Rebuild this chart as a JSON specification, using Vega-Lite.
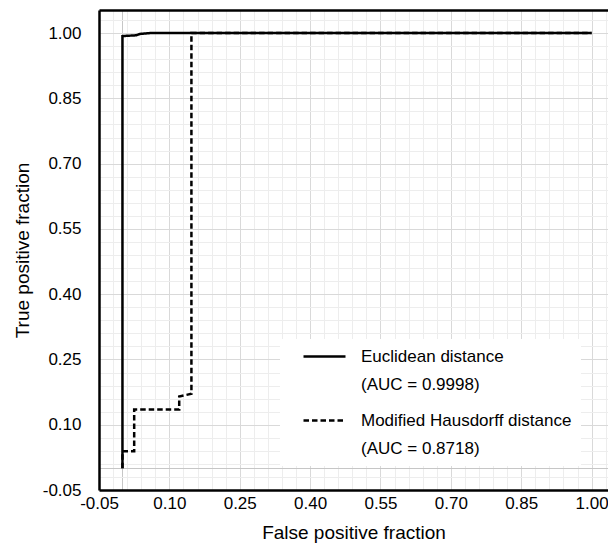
{
  "$schema": "https://vega.github.io/schema/vega-lite/v6.json",
  "width": 509,
  "height": 480,
  "autosize": {"type": "none"},
  "padding": {"left": 99, "top": 10, "right": 0, "bottom": 57},
  "config": {
    "view": {"stroke": null},
    "font": "Liberation Sans",
    "style": {"guide-label": {"lineHeight": 28}}
  },
  "data": {
    "values": [
      {"series": "Euclidean distance", "i": 0, "fpf": 0, "tpf": 0},
      {"series": "Euclidean distance", "i": 1, "fpf": 0, "tpf": 0.993},
      {"series": "Euclidean distance", "i": 2, "fpf": 0.03, "tpf": 0.995},
      {"series": "Euclidean distance", "i": 3, "fpf": 0.037, "tpf": 0.998},
      {"series": "Euclidean distance", "i": 4, "fpf": 0.06, "tpf": 1},
      {"series": "Euclidean distance", "i": 5, "fpf": 1, "tpf": 1},
      {"series": "Modified Hausdorff distance", "i": 0, "fpf": 0, "tpf": 0},
      {"series": "Modified Hausdorff distance", "i": 1, "fpf": 0, "tpf": 0.039},
      {"series": "Modified Hausdorff distance", "i": 2, "fpf": 0.025, "tpf": 0.039},
      {"series": "Modified Hausdorff distance", "i": 3, "fpf": 0.025, "tpf": 0.135},
      {"series": "Modified Hausdorff distance", "i": 4, "fpf": 0.121, "tpf": 0.135},
      {"series": "Modified Hausdorff distance", "i": 5, "fpf": 0.121, "tpf": 0.165},
      {"series": "Modified Hausdorff distance", "i": 6, "fpf": 0.147, "tpf": 0.171},
      {"series": "Modified Hausdorff distance", "i": 7, "fpf": 0.147, "tpf": 1},
      {"series": "Modified Hausdorff distance", "i": 8, "fpf": 1, "tpf": 1}
    ]
  },
  "layer": [
    {
      "mark": {"type": "line", "strokeWidth": 2.5, "color": "black", "clip": true},
      "encoding": {
        "x": {
          "field": "fpf",
          "type": "quantitative",
          "scale": {"domain": [-0.05, 1.035], "nice": false, "zero": false},
          "axis": {
            "values": [-0.05, -0.02, 0, 0.01, 0.04, 0.07, 0.1, 0.13, 0.16, 0.19, 0.22, 0.25, 0.28, 0.31, 0.34, 0.37, 0.4, 0.43, 0.46, 0.49, 0.52, 0.55, 0.58, 0.61, 0.64, 0.67, 0.7, 0.73, 0.76, 0.79, 0.82, 0.85, 0.88, 0.91, 0.94, 0.97, 1, 1.03],
            "labelExpr": "indexof([-0.05,0.1,0.25,0.4,0.55,0.7,0.85,1], datum.value) >= 0 ? (datum.value < 0 ? '-0.05' : format(datum.value, '.2f')) : ''",
            "ticks": false,
            "domainColor": "black",
            "domainWidth": 2.5,
            "grid": true,
            "gridWidth": 1,
            "gridColor": {
              "condition": [
                {"test": "datum.value === 0", "value": "#c6c6c6"},
                {"test": "indexof([-0.05,0.1,0.25,0.4,0.55,0.7,0.85,1], datum.value) >= 0", "value": "#d9d9d9"}
              ],
              "value": "#ededed"
            },
            "labelFontSize": 17,
            "labelColor": "black",
            "labelPadding": 5,
            "labelOverlap": false,
            "labelFlush": false,
            "labelBound": false,
            "title": "False positive fraction",
            "titleFontSize": 19,
            "titleFontWeight": "normal",
            "titleColor": "black",
            "titlePadding": 12
          }
        },
        "y": {
          "field": "tpf",
          "type": "quantitative",
          "scale": {"domain": [-0.05, 1.053], "nice": false, "zero": false},
          "axis": {
            "values": [-0.05, -0.02, 0, 0.01, 0.04, 0.07, 0.1, 0.13, 0.16, 0.19, 0.22, 0.25, 0.28, 0.31, 0.34, 0.37, 0.4, 0.43, 0.46, 0.49, 0.52, 0.55, 0.58, 0.61, 0.64, 0.67, 0.7, 0.73, 0.76, 0.79, 0.82, 0.85, 0.88, 0.91, 0.94, 0.97, 1, 1.03],
            "labelExpr": "indexof([-0.05,0.1,0.25,0.4,0.55,0.7,0.85,1], datum.value) >= 0 ? (datum.value < 0 ? '-0.05' : format(datum.value, '.2f')) : ''",
            "ticks": false,
            "domainColor": "black",
            "domainWidth": 2.5,
            "grid": true,
            "gridWidth": 1,
            "gridColor": {
              "condition": [
                {"test": "datum.value === 0", "value": "#c6c6c6"},
                {"test": "indexof([-0.05,0.1,0.25,0.4,0.55,0.7,0.85,1], datum.value) >= 0", "value": "#d9d9d9"}
              ],
              "value": "#ededed"
            },
            "labelFontSize": 17,
            "labelColor": "black",
            "labelPadding": 18,
            "labelOverlap": false,
            "labelFlush": false,
            "labelBound": false,
            "title": "True positive fraction",
            "titleFontSize": 19,
            "titleFontWeight": "normal",
            "titleColor": "black",
            "titlePadding": 10
          }
        },
        "strokeDash": {
          "field": "series",
          "type": "nominal",
          "scale": {"domain": ["Euclidean distance", "Modified Hausdorff distance"], "range": [[1, 0], [5.5, 3]]},
          "legend": {
            "title": null,
            "orient": "none",
            "legendX": 181,
            "legendY": 329,
            "fillColor": "white",
            "padding": 9,
            "symbolType": "M-1,0H5",
            "symbolSize": 196,
            "symbolOffset": 13,
            "symbolStrokeWidth": 2.5,
            "symbolStrokeColor": "black",
            "symbolFillColor": "transparent",
            "labelFontSize": 17,
            "labelColor": "black",
            "labelOffset": 42,
            "labelLimit": 400,
            "rowPadding": 18,
            "labelExpr": "datum.label == 'Euclidean distance' ? ['Euclidean distance', '(AUC = 0.9998)'] : ['Modified Hausdorff distance\u00a0\u00a0\u00a0\u00a0', '(AUC = 0.8718)']"
          }
        },
        "order": {"field": "i", "type": "quantitative"}
      }
    },
    {
      "mark": {"type": "rule", "opacity": 0},
      "encoding": {
        "x": {
          "field": "fpf",
          "type": "quantitative",
          "scale": {"domain": [-0.05, 1.035], "nice": false, "zero": false},
          "axis": {
            "orient": "top",
            "domain": true,
            "domainColor": "black",
            "domainWidth": 2.5,
            "labels": false,
            "ticks": false,
            "grid": false,
            "title": null
          }
        }
      }
    }
  ],
  "resolve": {"axis": {"x": "independent"}}
}
